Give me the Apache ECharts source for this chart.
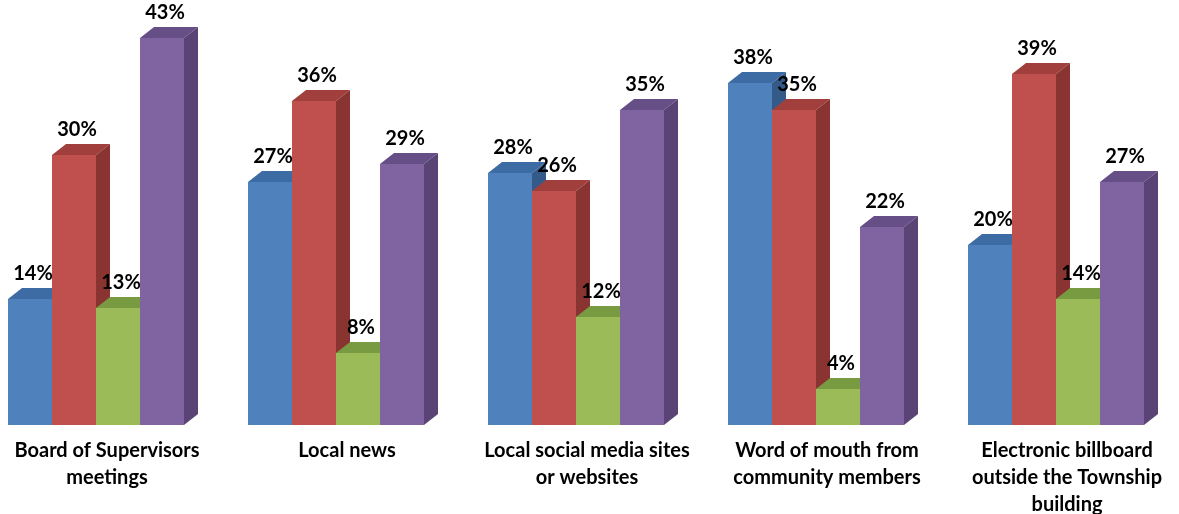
<!DOCTYPE html>
<html>
<head>
<meta charset="utf-8">
<script src="https://cdn.jsdelivr.net/npm/echarts@6/dist/echarts.min.js"></script>
<style>
html,body{margin:0;padding:0;background:#fff;}
#chart{width:1179px;height:514px;}
</style>
</head>
<body>
<div id="chart"></div>
<script>
// ---- data ----
var categories = [
  "Board of Supervisors\nmeetings",
  "Local news",
  "Local social media sites\nor websites",
  "Word of mouth from\ncommunity members",
  "Electronic billboard\noutside the Township\nbuilding"
];
var seriesNames = ["Series 1", "Series 2", "Series 3", "Series 4"];
var blueValues   = [14, 27, 28, 38, 20];
var redValues    = [30, 36, 26, 35, 39];
var greenValues  = [13, 8, 12, 4, 14];
var purpleValues = [43, 29, 35, 22, 27];
var allValues = [blueValues, redValues, greenValues, purpleValues];

// ---- styles ----
var palettes = [
  {front: "#4F81BD", top: "#3D6BA3", side: "#335A89"},
  {front: "#C0504D", top: "#A13F3C", side: "#8A3432"},
  {front: "#9BBB59", top: "#789A40", side: "#6A8838"},
  {front: "#8064A2", top: "#654F86", side: "#594475"}
];
var BAR_W = 44, DX = 14, DY = 11;
var FONT = "Lato, 'Open Sans', sans-serif";

function makeRender(si) {
  return function (params, api) {
    var idx = api.value(0);
    var v = api.value(1);
    var topPt = api.coord([idx, v]);
    var basePt = api.coord([idx, 0]);
    var x0 = topPt[0] - 2 * BAR_W + si * BAR_W;
    var x1 = x0 + BAR_W;
    var yT = topPt[1], yB = basePt[1];
    var p = palettes[si];
    return {
      type: 'group',
      children: [
        {type: 'rect', shape: {x: x0, y: yT, width: BAR_W, height: yB - yT},
         style: {fill: p.front}},
        {type: 'polygon', shape: {points: [[x0, yT], [x0 + DX, yT - DY], [x1 + DX, yT - DY], [x1, yT]]},
         style: {fill: p.top}},
        {type: 'polygon', shape: {points: [[x1, yT], [x1 + DX, yT - DY], [x1 + DX, yB - DY], [x1, yB]]},
         style: {fill: p.side}},
        {type: 'text', style: {
          text: v + '%', x: (x0 + x1) / 2 + 3, y: yT - DY - 4,
          align: 'center', verticalAlign: 'bottom',
          fontSize: 20, fontWeight: 'bold', fontFamily: FONT, fill: '#000'
        }}
      ]
    };
  };
}

var series = allValues.map(function (vals, si) {
  return {
    name: seriesNames[si],
    type: 'custom',
    clip: false,
    renderItem: makeRender(si),
    encode: {x: 0, y: 1},
    data: vals.map(function (v, i) { return [i, v]; })
  };
});

var chart = echarts.init(document.getElementById('chart'), null, {renderer: 'canvas'});
chart.setOption({
  animation: false,
  backgroundColor: '#fff',
  grid: {left: 96, right: 123, top: 20, bottom: 89, containLabel: false, outerBoundsMode: 'none'},
  xAxis: {
    type: 'category',
    data: categories,
    boundaryGap: false,
    axisLine: {show: false},
    axisTick: {show: false},
    splitLine: {show: false},
    axisLabel: {
      interval: 0,
      margin: 12,
      padding: [0, 0, 0, 22],
      lineHeight: 27,
      fontSize: 20,
      fontWeight: 'bold',
      fontFamily: FONT,
      color: '#000',
      align: 'center',
      hideOverlap: false
    }
  },
  yAxis: {
    type: 'value', min: 0, max: 45, show: false,
    splitLine: {show: false}
  },
  series: series
});
</script>
</body>
</html>
